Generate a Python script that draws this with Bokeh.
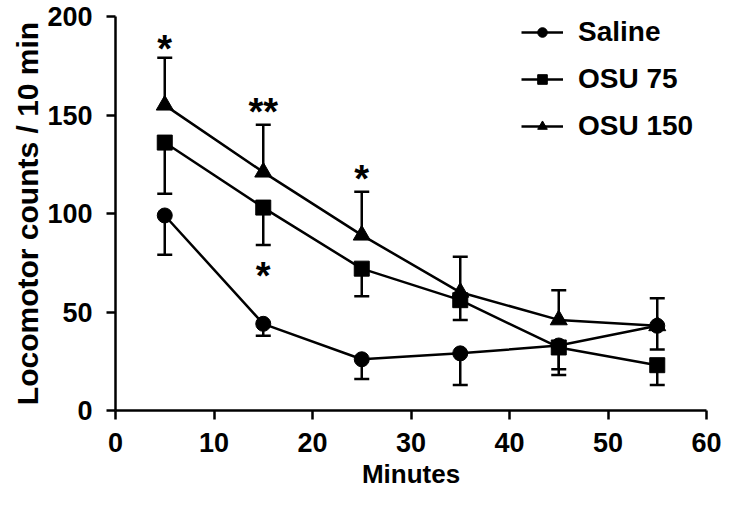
from bokeh.plotting import figure
from bokeh.models import FixedTicker, Legend, LegendItem, ColumnDataSource
from bokeh.core.properties import value
from bokeh.embed import file_html
from bokeh.resources import INLINE

# ---- data ----
minutes = [5, 15, 25, 35, 45, 55]
saline = [99, 44, 26, 29, 33, 43]
saline_err_end = [79, 38, 16, 13, 21, 31]
osu75 = [136, 103, 72, 56, 32, 23]
osu75_err_end = [110, 84, 58, 46, 18, 13]
osu150 = [155, 121, 89, 60, 46, 43]
osu150_err_end = [179, 145, 111, 78, 61, 57]

series_names = ["Saline", "OSU 75", "OSU 150"]
series_markers = ["circle", "square", "triangle"]

star_x = [5, 15, 25, 15]
star_y = [188, 156, 122, 73]
star_text = ["*", "**", "*", "*"]

x_ticks = [0, 10, 20, 30, 40, 50, 60]
y_ticks = [0, 50, 100, 150, 200]

FONT = "Liberation Sans"

p = figure(width=723, height=491, x_range=(0, 60), y_range=(0, 200),
           output_backend="svg", toolbar_location=None,
           min_border_left=115, min_border_right=17, min_border_top=16,
           min_border_bottom=80)
p.outline_line_color = None
p.xgrid.visible = False
p.ygrid.visible = False
p.background_fill_color = "white"

for ax in (p.xaxis[0], p.yaxis[0]):
    ax.axis_line_width = 2.5
    ax.axis_line_color = "black"
    ax.major_tick_line_width = 2.5
    ax.major_tick_line_color = "black"
    ax.major_tick_out = 9
    ax.major_tick_in = 0
    ax.minor_tick_line_color = None
    ax.major_label_text_font = FONT
    ax.major_label_text_font_style = "bold"
    ax.major_label_text_font_size = "27px"
    ax.major_label_text_color = "black"
    ax.axis_label_text_font = FONT
    ax.axis_label_text_font_style = "bold"
    ax.axis_label_text_color = "black"

p.xaxis.ticker = FixedTicker(ticks=x_ticks)
p.yaxis.ticker = FixedTicker(ticks=y_ticks)
p.xaxis.axis_label = "Minutes"
p.yaxis.axis_label = "Locomotor counts / 10 min"
p.xaxis.axis_label_text_font_size = "26px"
p.yaxis.axis_label_text_font_size = "30px"
p.xaxis.major_label_standoff = 13
p.yaxis.major_label_standoff = 14
p.xaxis.axis_label_standoff = 4
p.yaxis.axis_label_standoff = 0

vals = [saline, osu75, osu150]
ends = [saline_err_end, osu75_err_end, osu150_err_end]
sizes = [15, 15, 17]

# error bars
for v, e in zip(vals, ends):
    src = ColumnDataSource(dict(x=minutes, y=v, e=e))
    p.segment(x0="x", y0="y", x1="x", y1="e", source=src,
              line_color="black", line_width=2.5)
    p.scatter(x="x", y="e", source=src, marker="dash", size=15,
              line_color="black", line_width=2.5)

items = []
for name, v, m, s in zip(series_names, vals, series_markers, sizes):
    src = ColumnDataSource(dict(x=minutes, y=v))
    lr = p.line(x="x", y="y", source=src, line_color="black", line_width=2.5)
    sr = p.scatter(x="x", y="y", source=src, marker=m, size=s,
                   fill_color="black", line_color="black")
    items.append(LegendItem(label=name, renderers=[lr, sr]))

# significance stars
p.text(x=star_x, y=star_y, text=star_text, text_font=value(FONT),
       text_font_size="38px", text_font_style="bold", text_color="black",
       text_align="center", text_baseline="middle", y_offset=9)

legend = Legend(items=items, location=(406, 268), orientation="vertical",
                border_line_color=None, background_fill_alpha=0,
                padding=0, margin=0, spacing=15,
                glyph_width=42, glyph_height=24, label_standoff=15,
                label_text_font=FONT, label_text_font_style="bold",
                label_text_font_size="28px", label_text_color="black")
p.add_layout(legend)

open("out.html", "w").write(file_html(p, INLINE))
